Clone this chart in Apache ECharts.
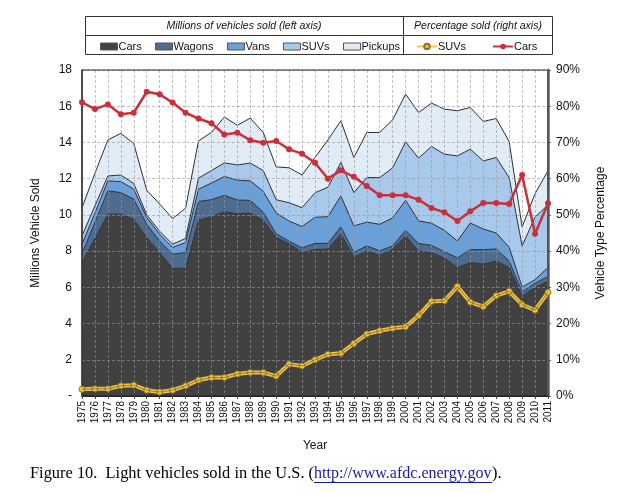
<!DOCTYPE html>
<html>
<head>
<meta charset="utf-8">
<script src="https://cdn.jsdelivr.net/npm/echarts@6/dist/echarts.min.js"></script>
<style>
  html, body { margin: 0; padding: 0; background: #ffffff; }
  #chart { width: 621px; height: 494px; }
</style>
</head>
<body>
<div id="chart"></div>
<script>
// ---- Data ----
const years = ['1975','1976','1977','1978','1979','1980','1981','1982','1983','1984','1985','1986','1987','1988','1989','1990','1991','1992','1993','1994','1995','1996','1997','1998','1999','2000','2001','2002','2003','2004','2005','2006','2007','2008','2009','2010','2011'];

// Millions of vehicles sold (left axis), stacked
const carsSold    = [7.37,8.7,10.04,10.04,9.76,8.75,7.92,7.05,7.05,9.7,9.9,10.18,10.05,10.1,9.7,8.75,8.4,7.92,8.08,8.12,8.93,7.68,8.0,7.77,8.1,8.84,8.0,7.92,7.61,7.1,7.37,7.28,7.45,7.1,5.5,6.0,6.33];
const wagonsSold  = [0.49,0.9,1.29,1.19,1.11,0.73,0.64,0.78,0.87,1.04,0.94,0.9,0.77,0.7,0.45,0.2,0.15,0.26,0.34,0.31,0.41,0.24,0.29,0.24,0.19,0.31,0.42,0.4,0.35,0.53,0.71,0.8,0.67,0.35,0.25,0.23,0.27];
const vansSold    = [0.52,0.5,0.55,0.61,0.55,0.37,0.37,0.37,0.55,0.68,0.92,1.04,1.1,1.08,1.15,1.15,1.11,1.18,1.45,1.47,1.71,1.47,1.31,1.47,1.54,1.66,1.25,1.22,1.19,0.93,1.47,1.14,0.88,0.77,0.27,0.19,0.5];
const suvsSold    = [0.46,0.4,0.27,0.36,0.31,0.15,0.17,0.18,0.23,0.61,0.69,0.75,0.84,0.98,1.15,0.74,1.01,1.04,1.35,1.63,1.85,1.84,2.46,2.58,2.77,3.22,3.46,4.24,4.2,4.7,4.08,3.76,4.17,3.84,2.27,3.46,3.45];
const pickupsSold = [1.56,1.8,1.99,2.3,2.21,1.36,1.5,1.42,1.67,2.06,2.1,2.53,2.19,2.48,2.1,1.81,1.93,1.8,1.95,2.61,2.3,1.94,2.49,2.49,2.65,2.64,2.52,2.39,2.49,2.49,2.3,2.18,2.15,1.99,1.04,1.29,1.89];

// Percentage sold (right axis)
const suvPct = [1.85,2.0,2.0,2.8,3.0,1.6,1.1,1.6,2.8,4.4,5.1,5.1,6.1,6.5,6.5,5.5,8.8,8.3,10.0,11.5,11.8,14.5,17.1,18.0,18.7,19.1,22.2,26.1,26.3,30.2,25.9,24.7,27.7,28.9,25.2,23.7,28.6];
const carPct = [81.1,79.2,80.5,77.8,78.2,84.0,83.3,81.0,78.2,76.6,75.3,72.2,72.7,70.6,69.9,70.4,68.1,66.9,64.4,60.0,62.3,60.5,58.0,55.4,55.4,55.4,54.2,51.9,50.7,48.3,51.0,53.3,53.3,53.0,61.0,44.8,53.2];

// Axis ticks
const leftTicks = {min: 0, max: 18, interval: 2};
const rightTicks = {min: 0, max: 90, interval: 10};

// ---- Chart ----
const FONT = '"Liberation Sans", Arial, Helvetica, sans-serif';
const SERIF = '"Liberation Serif", "Times New Roman", serif';
const chart = echarts.init(document.getElementById('chart'), null, {renderer: 'canvas'});

const areaColors = {
  Cars: '#414141',
  Wagons: '#4f6b8e',
  Vans: '#6a9fd8',
  SUVs: '#a8c8ec',
  Pickups: '#e2ecf7'
};

function areaSeries(name, data) {
  return {
    name: name,
    type: 'line',
    stack: 'veh',
    data: data,
    symbol: 'none',
    showSymbol: false,
    smooth: false,
    z: 2,
    lineStyle: {color: '#2b2f36', width: 1},
    itemStyle: {color: areaColors[name], borderColor: '#333', borderWidth: 1},
    areaStyle: {color: areaColors[name], opacity: 1},
    emphasis: {disabled: true}
  };
}

function legendAt(left, name, isArea) {
  const l = {
    left: left,
    top: 41,
    orient: 'horizontal',
    data: [name],
    itemWidth: 17,
    itemHeight: 7,
    itemGap: 0,
    padding: 0,
    textStyle: {fontFamily: FONT, fontSize: 11, color: '#111', padding: [0, 0, 0, -4]},
    selectedMode: false
  };
  if (isArea) {
    l.icon = 'rect';
    l.itemStyle = {borderColor: '#555', borderWidth: 1};
  } else {
    l.itemWidth = 20;
    l.itemHeight = 7;
  }
  return l;
}

const option = {
  backgroundColor: '#ffffff',
  animation: false,
  grid: {left: 82, right: 73, top: 70, bottom: 98, show: true, borderColor: '#222', borderWidth: 1, backgroundColor: 'transparent', z: 6},
  legend: [
    legendAt(100, 'Cars', true),
    legendAt(155, 'Wagons', true),
    legendAt(227, 'Vans', true),
    legendAt(283, 'SUVs', true),
    legendAt(343, 'Pickups', true),
    legendAt(416, 'SUVs ', false),
    legendAt(492, 'Cars ', false)
  ],
  xAxis: {
    type: 'category',
    data: years,
    boundaryGap: false,
    z: 5,
    name: 'Year',
    nameLocation: 'middle',
    nameGap: 44,
    nameTextStyle: {fontFamily: FONT, fontSize: 12, color: '#111'},
    axisLine: {show: true, lineStyle: {color: '#222', width: 1}},
    axisTick: {show: true, length: 3, lineStyle: {color: '#444'}},
    axisLabel: {rotate: 90, fontFamily: FONT, fontSize: 10, color: '#111', margin: 5, interval: 0},
    splitLine: {show: true, interval: 0, lineStyle: {color: 'rgba(150,150,150,0.6)', type: [3, 2], width: 1}}
  },
  yAxis: [
    {
      type: 'value',
      min: leftTicks.min, max: leftTicks.max, interval: leftTicks.interval,
      z: 5,
      name: 'Millions Vehicle Sold',
      nameLocation: 'middle',
      nameGap: 40,
      nameTextStyle: {fontFamily: FONT, fontSize: 12, color: '#111'},
      axisLine: {show: true, lineStyle: {color: '#555', width: 1.5}},
      axisTick: {show: false},
      axisLabel: {fontFamily: FONT, fontSize: 12, color: '#111', margin: 10, formatter: function (v) { return v === 0 ? '-' : String(v); }},
      splitLine: {show: true, lineStyle: {color: 'rgba(150,150,150,0.6)', type: [3, 2], width: 1}}
    },
    {
      type: 'value',
      min: rightTicks.min, max: rightTicks.max, interval: rightTicks.interval,
      position: 'right',
      z: 5,
      name: 'Vehicle Type Percentage',
      nameLocation: 'middle',
      nameGap: 47,
      nameRotate: 90,
      nameTextStyle: {fontFamily: FONT, fontSize: 12, color: '#111'},
      axisLine: {show: true, lineStyle: {color: '#8a8a8a', width: 3}},
      axisTick: {show: true, length: 3, inside: false, lineStyle: {color: '#666'}},
      axisLabel: {fontFamily: FONT, fontSize: 12, color: '#111', margin: 8, formatter: '{value}%'},
      splitLine: {show: false}
    }
  ],
  series: [
    areaSeries('Cars', carsSold),
    areaSeries('Wagons', wagonsSold),
    areaSeries('Vans', vansSold),
    areaSeries('SUVs', suvsSold),
    areaSeries('Pickups', pickupsSold),
    {
      name: 'SUVs ',
      type: 'line',
      yAxisIndex: 1,
      data: suvPct,
      z: 10,
      symbol: 'circle',
      symbolSize: 6,
      lineStyle: {color: '#f2c43e', width: 4},
      itemStyle: {color: '#f5c53a', borderColor: '#8d7328', borderWidth: 1},
      emphasis: {disabled: true}
    },
    {
      name: 'suvCore',
      type: 'line',
      yAxisIndex: 1,
      data: suvPct,
      z: 11,
      symbol: 'none',
      lineStyle: {color: '#7a6a3e', width: 0.8},
      emphasis: {disabled: true},
      silent: true
    },
    {
      name: 'Cars ',
      type: 'line',
      yAxisIndex: 1,
      data: carPct,
      z: 12,
      symbol: 'circle',
      symbolSize: 6,
      lineStyle: {color: '#c9313a', width: 2.5},
      itemStyle: {color: '#c9313a'},
      emphasis: {disabled: true}
    }
  ],
  graphic: [
    {type: 'rect', shape: {x: 85.5, y: 16.5, width: 467, height: 38}, style: {fill: 'none', stroke: '#333', lineWidth: 1}, z: 1},
    {type: 'line', shape: {x1: 85.5, y1: 35.5, x2: 552.5, y2: 35.5}, style: {stroke: '#333', lineWidth: 1}, z: 1},
    {type: 'line', shape: {x1: 403.5, y1: 16.5, x2: 403.5, y2: 54.5}, style: {stroke: '#333', lineWidth: 1}, z: 1},
    {type: 'text', x: 244, y: 26, style: {text: 'Millions of vehicles sold (left axis)', fontFamily: FONT, fontSize: 10.5, fontStyle: 'italic', fill: '#111', textAlign: 'center', textVerticalAlign: 'middle'}, z: 1},
    {type: 'text', x: 478, y: 26, style: {text: 'Percentage sold (right axis)', fontFamily: FONT, fontSize: 10.5, fontStyle: 'italic', fill: '#111', textAlign: 'center', textVerticalAlign: 'middle'}, z: 1},
    {type: 'text', x: 30, y: 474, style: {text: 'Figure 10.  Light vehicles sold in the U.S. (', fontFamily: SERIF, fontSize: 16.4, fill: '#000', textAlign: 'left', textVerticalAlign: 'middle'}, z: 1},
    {type: 'text', x: 314, y: 474, style: {text: 'http://www.afdc.energy.gov', fontFamily: SERIF, fontSize: 16, fill: '#1a1aa6', textAlign: 'left', textVerticalAlign: 'middle'}, z: 1},
    {type: 'line', shape: {x1: 314, y1: 482.5, x2: 492, y2: 482.5}, style: {stroke: '#1a1aa6', lineWidth: 1}, z: 1},
    {type: 'text', x: 492, y: 474, style: {text: ').', fontFamily: SERIF, fontSize: 16.4, fill: '#000', textAlign: 'left', textVerticalAlign: 'middle'}, z: 1}
  ]
};

chart.setOption(option);
</script>
</body>
</html>
